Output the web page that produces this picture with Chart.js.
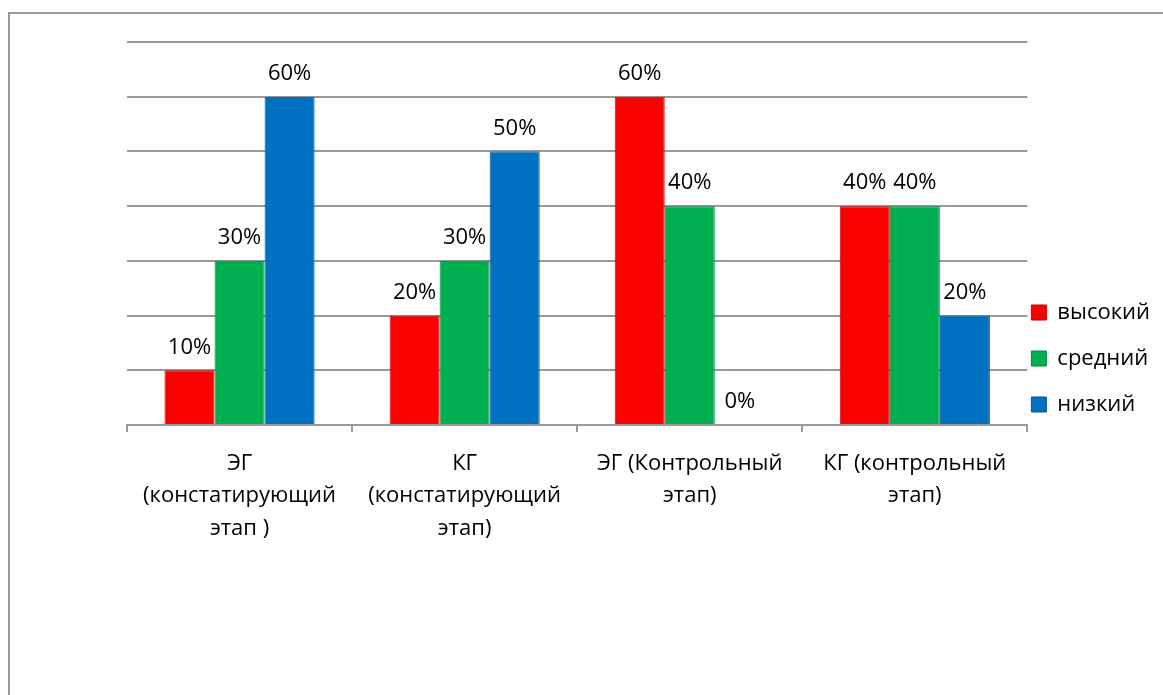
<!DOCTYPE html>
<html>
<head>
<meta charset="utf-8">
<script src="https://cdn.jsdelivr.net/npm/chart.js@4/dist/chart.umd.min.js"></script>
<style>
    html, body { margin: 0; padding: 0; background: #fff; }
    #wrap { width: 1163px; height: 695px; }
</style>
</head>
<body>
<div id="wrap"><canvas id="myChart" width="1163" height="695"></canvas></div>
<script>
const categories = [
    ['ЭГ', '(констатирующий', 'этап )'],
    ['КГ', '(констатирующий', 'этап)'],
    ['ЭГ (Контрольный', 'этап)'],
    ['КГ (контрольный', 'этап)']
];
const high = [10, 20, 60, 40];
const middle = [30, 30, 40, 40];
const low = [60, 50, 0, 20];

const font_family = '"Open Sans", "Noto Sans", sans-serif';

// percent labels above each bar
const valueLabels = {
    id: 'valueLabels',
    afterDatasetsDraw(chart) {
        const ctx = chart.ctx;
        ctx.save();
        ctx.font = '22px ' + font_family;
        ctx.fillStyle = '#000';
        ctx.textAlign = 'center';
        ctx.textBaseline = 'middle';
        chart.data.datasets.forEach((ds, i) => {
            chart.getDatasetMeta(i).data.forEach((bar, j) => {
                ctx.fillText(ds.data[j] + '%', bar.x, bar.y - 23);
            });
        });
        ctx.restore();
    }
};

// pull the legend closer to the plot
const legendShift = {
    id: 'legendShift',
    afterUpdate(chart) {
        if (!chart.legend) return;
        chart.legend.left -= 20;
        chart.legend.right -= 20;
        chart.legend.adjustHitBoxes();
    }
};

// grey frame on the left and top edge
const frame = {
    id: 'frame',
    beforeDraw(chart) {
        const ctx = chart.ctx;
        ctx.save();
        ctx.strokeStyle = '#9a9a9a';
        ctx.lineWidth = 2;
        ctx.beginPath();
        ctx.moveTo(9, chart.height);
        ctx.lineTo(9, 13);
        ctx.lineTo(chart.width, 13);
        ctx.stroke();
        ctx.restore();
    }
};

function render_chart() {
    let ctx = document.getElementById('myChart');
    new Chart(ctx, {
        type: 'bar',
        data: {
            labels: categories,
            datasets: [
                { label: 'высокий', data: high, backgroundColor: '#fa0000', borderColor: '#c80000', borderWidth: 1 },
                { label: 'средний', data: middle, backgroundColor: '#00b050', borderColor: '#008a3e', borderWidth: 1 },
                { label: 'низкий', data: low, backgroundColor: '#0070c0', borderColor: '#00579a', borderWidth: 1 }
            ]
        },
        options: {
            responsive: false,
            animation: false,
            categoryPercentage: 0.667,
            barPercentage: 1,
            layout: {
                padding: { top: 42, bottom: 20, left: 0, right: -17 }
            },
            scales: {
                x: {
                    afterFit: s => { s.height = 250; },
                    grid: {
                        offset: true,
                        drawOnChartArea: false,
                        tickLength: 7,
                        color: '#9a9a9a',
                        lineWidth: 2
                    },
                    border: { color: '#9a9a9a', width: 2 },
                    ticks: {
                        color: '#000',
                        padding: 15,
                        maxRotation: 0,
                        autoSkip: false,
                        font: { family: font_family, size: 22, lineHeight: 1.48 }
                    }
                },
                y: {
                    min: 0,
                    max: 70,
                    afterFit: s => { s.width = 127; },
                    ticks: { display: false, stepSize: 10 },
                    border: { display: false },
                    grid: { color: '#9a9a9a', lineWidth: 2, drawTicks: false }
                }
            },
            plugins: {
                legend: {
                    position: 'right',
                    labels: {
                        boxWidth: 15,
                        boxHeight: 15,
                        padding: 24,
                        color: '#000',
                        font: { family: font_family, size: 22 }
                    }
                },
                tooltip: { enabled: false }
            }
        },
        plugins: [frame, valueLabels, legendShift]
    });
}

document.addEventListener('DOMContentLoaded', () => {
    render_chart();
});
</script>
</body>
</html>
